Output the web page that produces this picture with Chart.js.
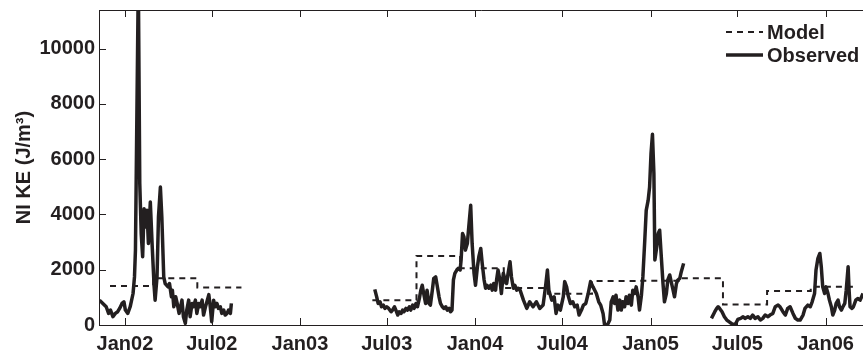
<!DOCTYPE html>
<html>
<head>
<meta charset="utf-8">
<script src="https://cdn.jsdelivr.net/npm/chart.js@4.4.1/dist/chart.umd.min.js"></script>
<style>
  html, body { margin: 0; padding: 0; background: #fff; overflow: hidden; }
  canvas { display: block; }
</style>
</head>
<body>
<canvas id="chart" width="863" height="353"></canvas>
<script>
// x values are days counted from 1 Jan 2002
const tickLabels = ['Jan02', 'Jul02', 'Jan03', 'Jul03', 'Jan04', 'Jul04', 'Jan05', 'Jul05', 'Jan06'];
const tickDates = ['2002-01-01', '2002-07-01', '2003-01-01', '2003-07-01', '2004-01-01',
  '2004-07-01', '2005-01-01', '2005-07-01', '2006-01-01'];
const yTicks = [0, 2000, 4000, 6000, 8000, 10000];

// seasonal model (step starts), null = no model
const modelDates = ['2001-12-01', '2002-03-01', '2002-06-01', '2002-09-01', '2003-01-01',
  '2003-06-01', '2003-09-01', '2003-12-01', '2004-03-01', '2004-06-01', '2004-09-01',
  '2004-12-01', '2005-03-01', '2005-06-01', '2005-09-01', '2005-12-01', '2006-03-01'];
const modelValues = [1410, 1690, 1360, 1360, null,
  900, 2500, 2050, 1340, 1130, 1590,
  1600, 1690, 740, 1230, 1380, 1380];

// observed, deployment 1 (winter 2001/02)
const obsDays1 = [
  -53, -46, -39, -34, -30, -25, -20, -15, -11, -6,
  -2, 1, 6, 11, 17, 20, 22, 28, 31, 34,
  37, 40, 43, 46, 49, 53, 57, 61, 63, 67,
  70, 74, 77, 81, 84, 90, 93, 97, 99, 102,
  106, 109, 113, 116, 119, 122, 126, 129, 133, 136,
  140, 143, 147, 150, 154, 157, 161, 164, 168, 171,
  175, 178, 181, 185, 188, 192, 195, 199, 202, 206,
  209, 213, 216, 220, 222];
const obsValues1 = [
  900, 780, 660, 420, 540, 300, 420, 480, 600, 780,
  840, 540, 420, 660, 1140, 1740, 2710, 12500, 5120, 3310,
  2470, 4210, 3550, 4150, 2950, 4450, 2830, 1380, 900, 1740,
  3910, 4990, 3910, 1740, 1500, 1380, 1500, 1020, 1260, 660,
  1020, 780, 420, 660, 900, 300, 60, 540, 900, 300,
  780, 660, 900, 420, 780, 660, 900, 360, 660, 840,
  1100, 660, 120, 900, 660, 780, 600, 660, 420, 540,
  360, 420, 540, 420, 780];

// observed, deployment 2 (Jun 2003 - Mar 2005)
const obsDays2 = [
  521, 525, 528, 532, 535, 539, 542, 546, 550, 555,
  558, 562, 565, 569, 572, 576, 579, 582, 586, 589,
  593, 596, 600, 603, 607, 610, 614, 617, 620, 623,
  627, 630, 634, 637, 641, 644, 648, 651, 655, 658,
  662, 665, 669, 672, 676, 679, 682, 685, 688, 692,
  695, 699, 701, 704, 707, 710, 714, 717, 721, 724,
  728, 731, 735, 738, 742, 745, 749, 752, 755, 759,
  763, 766, 769, 773, 775, 778, 782, 785, 789, 792,
  796, 799, 803, 806, 810, 813, 817, 820, 824, 831,
  838, 844, 851, 858, 865, 872, 877, 881, 884, 890,
  895, 899, 903, 908, 914, 917, 921, 924, 929, 934,
  938, 943, 947, 952, 956, 961, 966, 971, 976, 983,
  988, 992, 997, 1000, 1006, 1011, 1014, 1018, 1021, 1024,
  1028, 1032, 1035, 1038, 1042, 1045, 1049, 1052, 1056, 1059,
  1063, 1066, 1070, 1073, 1077, 1080, 1084, 1087, 1091, 1094,
  1097, 1100, 1103, 1105, 1109, 1112, 1115, 1118, 1122, 1125,
  1129, 1132, 1136, 1139, 1143, 1146, 1150, 1153, 1157, 1160,
  1165];
const obsValues2 = [
  1290, 1020, 780, 840, 660, 720, 600, 660, 600, 480,
  540, 660, 540, 360, 480, 420, 540, 480, 600, 540,
  660, 540, 720, 600, 780, 660, 960, 1260, 1440, 1140,
  780, 1260, 780, 720, 1260, 1690, 1740, 1440, 1020, 780,
  660, 600, 660, 540, 600, 480, 540, 1630, 1870, 1990,
  2050, 1990, 2350, 3310, 3190, 2710, 2950, 3550, 4330, 2950,
  1870, 1440, 2110, 2470, 2770, 2230, 1630, 1330, 1440, 1330,
  1440, 1260, 1500, 1260, 1630, 1990, 1630, 1140, 1870, 1690,
  1500, 1870, 2290, 1740, 1330, 1440, 1260, 1330, 1260, 900,
  600, 840, 660, 840, 600, 720, 1380, 1990, 1260, 900,
  1020, 420, 720, 540, 1020, 1570, 1380, 1080, 780, 840,
  660, 720, 360, 540, 720, 780, 1140, 1570, 1380, 1140,
  840, 720, 420, 20, 0, 180, 840, 1020, 780, 1080,
  540, 900, 540, 840, 660, 1020, 780, 1080, 720, 1260,
  1140, 1380, 1020, 540, 1080, 1740, 3070, 4150, 4510, 4990,
  6200, 6900, 5480, 2350, 2830, 3310, 3430, 2590, 1500, 840,
  1140, 1630, 1810, 1570, 1260, 1020, 1500, 1630, 1690, 1920,
  2230];

// observed, deployment 3 (Jun 2005 onwards)
const obsDays3 = [
  1223, 1230, 1234, 1237, 1240, 1245, 1250, 1255, 1261, 1266,
  1272, 1278, 1284, 1289, 1293, 1299, 1304, 1309, 1314, 1320,
  1325, 1330, 1335, 1341, 1345, 1351, 1356, 1362, 1366, 1372,
  1377, 1382, 1387, 1393, 1398, 1403, 1408, 1414, 1418, 1424,
  1429, 1433, 1438, 1441, 1445, 1449, 1452, 1455, 1459, 1462,
  1466, 1469, 1473, 1476, 1480, 1483, 1487, 1490, 1494, 1497,
  1501, 1504, 1508, 1510, 1512, 1516, 1519, 1524, 1528, 1533,
  1539];
const obsValues3 = [
  240, 480, 600, 660, 600, 480, 300, 180, 100, 40,
  0, 200, 240, 300, 240, 300, 240, 360, 240, 300,
  180, 240, 360, 300, 360, 420, 660, 720, 660, 480,
  360, 600, 660, 420, 240, 180, 180, 360, 600, 720,
  660, 840, 1140, 1990, 2410, 2590, 2110, 1380, 1140, 1380,
  1140, 900, 660, 360, 540, 780, 900, 660, 540, 660,
  780, 1260, 2110, 1260, 660, 600, 660, 900, 960, 900,
  1140];

const xMin = -54, xMax = 1539;
const yMax = 11400;

const ink = '#231f20';
const fontFamily = "'Liberation Sans', Arial, Helvetica, sans-serif";

function dayOf(s) {
  const [y, m, d] = s.split('-').map(Number);
  return (Date.UTC(y, m - 1, d) - Date.UTC(2002, 0, 1)) / 86400000;
}

function toPoints(days, values) {
  return days.map((d, i) => ({ x: d, y: values[i] }));
}

const tickDays = tickDates.map(dayOf);

const observed = [
  ...toPoints(obsDays1, obsValues1),
  { x: (obsDays1[obsDays1.length - 1] + obsDays2[0]) / 2, y: null },
  ...toPoints(obsDays2, obsValues2),
  { x: (obsDays2[obsDays2.length - 1] + obsDays3[0]) / 2, y: null },
  ...toPoints(obsDays3, obsValues3),
];
const model = toPoints(modelDates.map(dayOf), modelValues);

// ===== frame, inward ticks, legend
const framePlugin = {
  id: 'frame',
  afterDraw(chart) {
    const ctx = chart.ctx;
    const { left, right, top, bottom } = chart.chartArea;
    const xs = chart.scales.x, ys = chart.scales.y;
    const tl = 7;
    ctx.save();
    ctx.strokeStyle = ink;
    ctx.lineWidth = 1;
    ctx.beginPath();
    ctx.moveTo(left + 0.5, top + 0.5);
    ctx.lineTo(right, top + 0.5);
    ctx.moveTo(left + 0.5, top);
    ctx.lineTo(left + 0.5, bottom + 0.5);
    ctx.moveTo(left, bottom + 0.5);
    ctx.lineTo(right, bottom + 0.5);
    tickDays.forEach(d => {
      const px = Math.round(xs.getPixelForValue(d)) + 0.5;
      ctx.moveTo(px, bottom);
      ctx.lineTo(px, bottom - tl);
      ctx.moveTo(px, top);
      ctx.lineTo(px, top + tl);
    });
    yTicks.forEach(v => {
      const py = Math.round(ys.getPixelForValue(v)) + 0.5;
      ctx.moveTo(left, py);
      ctx.lineTo(left + tl, py);
    });
    ctx.stroke();

    // legend, upper right inside the axes
    const lx0 = right - 137, lx1 = right - 100, tx = right - 96;
    const rows = [{ label: 'Model', dash: [6, 5], width: 2, y: top + 22 },
                  { label: 'Observed', dash: [], width: 3.5, y: top + 45 }];
    ctx.font = 'bold 20px ' + fontFamily;
    ctx.textBaseline = 'middle';
    ctx.textAlign = 'left';
    ctx.fillStyle = ink;
    rows.forEach(r => {
      ctx.beginPath();
      ctx.setLineDash(r.dash);
      ctx.lineWidth = r.width;
      ctx.moveTo(lx0, r.y);
      ctx.lineTo(lx1, r.y);
      ctx.stroke();
      ctx.setLineDash([]);
      ctx.fillText(r.label, tx, r.y + 1);
    });

    // y axis title
    ctx.translate(24, (top + bottom) / 2);
    ctx.rotate(-Math.PI / 2);
    ctx.textAlign = 'center';
    ctx.fillText('NI KE (J/m³)', 0, 0);
    ctx.restore();
  }
};

new Chart(document.getElementById('chart'), {
  type: 'line',
  data: {
    datasets: [
      {
        label: 'Model',
        data: model,
        stepped: 'before',
        borderColor: ink,
        borderWidth: 2,
        borderDash: [6, 5],
        pointRadius: 0,
        spanGaps: false,
      },
      {
        label: 'Observed',
        data: observed,
        borderColor: ink,
        borderWidth: 3.5,
        borderJoinStyle: 'round',
        tension: 0,
        pointRadius: 0,
        spanGaps: false,
      },
    ],
  },
  options: {
    responsive: false,
    animation: false,
    devicePixelRatio: 1,
    layout: { padding: { top: 10, right: 0, left: 0, bottom: 0 } },
    plugins: { legend: { display: false }, tooltip: { enabled: false } },
    scales: {
      x: {
        type: 'linear',
        min: xMin,
        max: xMax,
        grid: { display: false, drawTicks: false },
        border: { display: false },
        afterBuildTicks: s => { s.ticks = tickDays.map(v => ({ value: v })); },
        afterFit: s => { s.height = 28; s.paddingLeft = 0; s.paddingRight = 0; },
        ticks: {
          autoSkip: false,
          maxRotation: 0,
          padding: 7,
          color: ink,
          font: { family: fontFamily, size: 20, weight: 'bold' },
          callback: v => tickLabels[tickDays.indexOf(v)],
        },
      },
      y: {
        min: 0,
        max: yMax,
        grid: { display: false, drawTicks: false },
        border: { display: false },
        afterBuildTicks: s => { s.ticks = yTicks.map(v => ({ value: v })); },
        afterFit: s => { s.width = 99; s.paddingTop = 0; s.paddingBottom = 0; },
        ticks: {
          padding: 4,
          color: ink,
          font: { family: fontFamily, size: 20, weight: 'bold' },
          callback: v => String(v),
        },
      },
    },
  },
  plugins: [framePlugin],
});
</script>
</body>
</html>
